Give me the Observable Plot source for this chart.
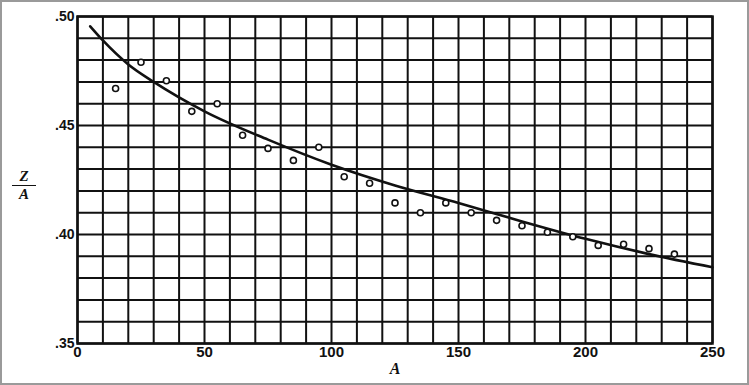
<!DOCTYPE html>
<html>
<head>
<meta charset="utf-8">
<script src="https://cdn.jsdelivr.net/npm/d3@7"></script>
<script src="https://cdn.jsdelivr.net/npm/@observablehq/plot@0.6"></script>
<style>
  html, body { margin: 0; padding: 0; background: #fff; }
  #wrap { position: relative; width: 749px; height: 385px; overflow: hidden; }
  #border { position: absolute; left: 0; top: 0; width: 749px; height: 385px; box-sizing: border-box; border: 2px solid #9a9a9a; pointer-events: none; }
  #ylab { position: absolute; left: 12px; top: 169px; width: 24px; text-align: center; font-family: "Liberation Serif", serif; font-weight: bold; font-style: italic; font-size: 15px; line-height: 15px; color: #111; }
  #ylab .num { display: block; border-bottom: 1.5px solid #111; padding-bottom: 1px; }
  #ylab .den { display: block; padding-top: 1px; }
</style>
</head>
<body>
<div id="wrap">
  <div id="chart"></div>
  <div id="ylab"><span class="num">Z</span><span class="den">A</span></div>
  <div id="border"></div>
</div>
<script>
// Measured points (A, Z/A)
const massNumbers = [15, 25, 35, 45, 55, 65, 75, 85, 95, 105, 115, 125, 135, 145, 155, 165, 175, 185, 195, 205, 215, 225, 235];
const ratios = [0.467, 0.479, 0.4705, 0.4565, 0.460, 0.4455, 0.4395, 0.434, 0.440, 0.4265, 0.4235, 0.4145, 0.410, 0.4145, 0.410, 0.4065, 0.404, 0.401, 0.399, 0.395, 0.3955, 0.3935, 0.391];

// Smooth curve
const curveA = [5, 10, 20, 30, 50, 75, 100, 125, 150, 175, 200, 225, 250];
const curveRatio = [0.4955, 0.489, 0.478, 0.470, 0.4565, 0.4435, 0.432, 0.4225, 0.4145, 0.406, 0.398, 0.391, 0.385];

// Tick labels
const xTicks = [0, 50, 100, 150, 200, 250];
const yTicks = [0.35, 0.40, 0.45, 0.50];

const points = massNumbers.map((a, i) => ({a, r: ratios[i]}));
const curve = curveA.map((a, i) => ({a, r: curveRatio[i]}));
const gridX = d3.range(0, 251, 10);
const gridY = d3.range(35, 51).map(d => d / 100);

const chart = Plot.plot({
  width: 749,
  height: 385,
  marginLeft: 77,
  marginRight: 37,
  marginTop: 16,
  marginBottom: 42,
  style: {background: "transparent", color: "#111"},
  x: {domain: [0, 250]},
  y: {domain: [0.35, 0.50]},
  marks: [
    Plot.ruleX(gridX, {stroke: "#111", strokeWidth: 2}),
    Plot.ruleY(gridY, {stroke: "#111", strokeWidth: 2}),
    Plot.frame({stroke: "#111", strokeWidth: 2.5}),
    Plot.line(curve, {x: "a", y: "r", stroke: "#111", strokeWidth: 2.6, curve: "monotone-x"}),
    Plot.dot(points, {x: "a", y: "r", r: 3, stroke: "#111", strokeWidth: 1.6, fill: "#fff"}),
    Plot.axisX(xTicks, {tickSize: 0, tickPadding: 3, fontSize: 15, fontWeight: "bold", fontFamily: "Liberation Sans", label: null}),
    Plot.axisY(yTicks, {tickSize: 0, tickPadding: 3, fontSize: 14, fontWeight: "bold", fontFamily: "Liberation Sans", label: null, tickFormat: d => d.toFixed(2).slice(1)}),
    Plot.text(["A"], {frameAnchor: "bottom", dy: 30, fontSize: 16, fontWeight: "bold", fontStyle: "italic", fontFamily: "Liberation Serif", fill: "#111"})
  ]
});
document.getElementById("chart").appendChild(chart);
</script>
</body>
</html>
